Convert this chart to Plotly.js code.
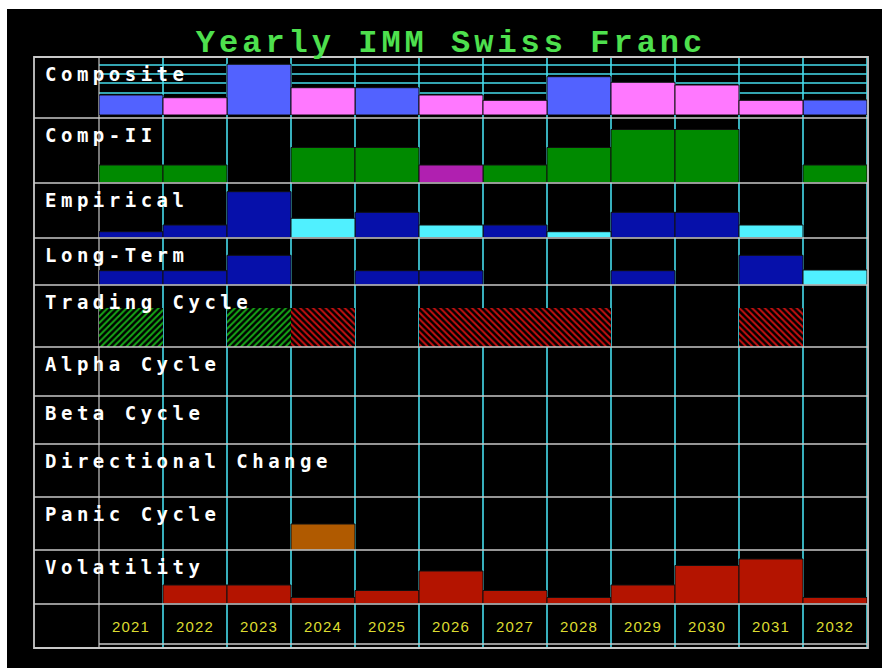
<!DOCTYPE html>
<html>
<head>
<meta charset="utf-8">
<script src="https://cdn.plot.ly/plotly-3.0.1.min.js"></script>
<style>
html,body{margin:0;padding:0;background:#000;}
#chart{width:882px;height:668px;}
.annotation-text{letter-spacing:4.5px;}
.gtitle{letter-spacing:4px;}
.x2tick text{letter-spacing:1.2px;}
</style>
</head>
<body>
<div id="chart"></div>
<script>
// ---- data ----
const years = [2021,2022,2023,2024,2025,2026,2027,2028,2029,2030,2031,2032];
const rowLabels = ["Composite","Comp-II","Empirical","Long-Term","Trading Cycle","Alpha Cycle","Beta Cycle","Directional Change","Panic Cycle","Volatility"];
const title = "Yearly IMM Swiss Franc";

const compositeBlue = [20,null,50.7,null,27.3,null,null,38.3,null,null,null,15];
const compositePink = [null,17.3,null,27.3,null,20,14.7,null,32.7,30,14.7,null];

const comp2Green  = [17.5,17.5,null,35,35,null,17.5,35,53,53,null,17.5];
const comp2Purple = [null,null,null,null,null,17.5,null,null,null,null,null,null];

const empiricalDark = [5.8,12.5,45.8,null,25.2,null,12.5,null,25.2,25.2,null,null];
const empiricalCyan = [null,null,null,19.2,null,12.5,null,5.8,null,null,12.5,null];

const longTermDark = [14.3,14.3,29.7,null,14.3,14.3,null,null,14.3,null,29.7,null];
const longTermCyan = [null,null,null,null,null,null,null,null,null,null,null,15];

const tradingGreen = [39,null,39,null,null,null,null,null,null,null,null,null];
const tradingRed   = [null,null,null,39,null,39,39,39,null,null,39,null];

const panicCycle = [null,null,null,26,null,null,null,null,null,null,null,null];

const volatility = [null,18.5,18.5,6,13,32.5,13,6,18.5,38,44.5,6];

// ---- layout geometry (pixels) ----
const W = 882, H = 668;
const px = x => x / W;
const py = y => 1 - y / H;
const rowTops = [57,118,183,238,285,347,396,444,497,550];
const rowBase = [115,182.5,237.5,285,347,396,444,497,550,603.5];
const frameL = 34, frameR = 868, frameT = 57, frameB = 648, divX = 99, plotR = 867;

const GRAY = '#c8c8c8', CYAN = '#46dcec';

function barTrace(vals, axisIdx, color) {
  return {
    type: 'bar', x: years, y: vals, xaxis: 'x', yaxis: axisIdx === 1 ? 'y' : 'y' + axisIdx,
    marker: { color: color, line: { color: '#101010', width: 1 } },
    hoverinfo: 'skip', showlegend: false
  };
}
function hatch(vals, axisIdx, color, shape) {
  return {
    type: 'bar', x: years, y: vals, xaxis: 'x', yaxis: 'y' + axisIdx,
    marker: { color: color, line: { width: 0 },
      pattern: { shape: shape, fillmode: 'replace', bgcolor: '#000', fgcolor: color, size: 4.5, solidity: 0.45 } },
    hoverinfo: 'skip', showlegend: false
  };
}

const data = [
  barTrace(compositeBlue, 1, '#5262ff'),
  barTrace(compositePink, 1, '#ff78ff'),
  barTrace(comp2Green, 2, '#008a00'),
  barTrace(comp2Purple, 2, '#b020b0'),
  barTrace(empiricalDark, 3, '#0610aa'),
  barTrace(empiricalCyan, 3, '#50f0ff'),
  barTrace(longTermDark, 4, '#0610aa'),
  barTrace(longTermCyan, 4, '#50f0ff'),
  hatch(tradingGreen, 5, '#16a816', '/'),
  hatch(tradingRed, 5, '#c81010', '\\'),
  barTrace(panicCycle, 6, '#b05a00'),
  barTrace(volatility, 7, '#b41400'),
  // carrier for the year axis
  { type: 'scatter', x: years, y: years.map(() => null), xaxis: 'x2', yaxis: 'y', hoverinfo: 'skip', showlegend: false }
];

// which row each y axis belongs to
const axisRows = { 1: 0, 2: 1, 3: 2, 4: 3, 5: 4, 6: 8, 7: 9 };

const layout = {
  width: W, height: H,
  margin: { l: 0, r: 0, t: 0, b: 0, pad: 0 },
  paper_bgcolor: '#000', plot_bgcolor: 'rgba(0,0,0,0)',
  barmode: 'overlay', bargap: 0,
  showlegend: false,
  title: {
    text: title, x: px(451), xanchor: 'center', y: py(41), yanchor: 'middle',
    font: { family: 'Liberation Mono', size: 32, color: '#4ee04e', weight: 'bold' }
  },
  xaxis: { domain: [px(divX), px(plotR)], range: [years[0] - 0.5, years[years.length - 1] + 0.5], visible: false, fixedrange: true },
  xaxis2: {
    domain: [px(divX), px(plotR)], range: [years[0] - 0.5, years[years.length - 1] + 0.5],
    anchor: 'free', position: py(616), overlaying: 'x',
    tickmode: 'array', tickvals: years, ticktext: years.map(String),
    ticks: '', showline: false, showgrid: false, zeroline: false,
    tickfont: { family: 'Liberation Sans', size: 15, color: '#dcdc30' }, fixedrange: true
  },
  shapes: [],
  annotations: []
};

for (const k in axisRows) {
  const r = axisRows[k];
  const name = k === '1' ? 'yaxis' : 'yaxis' + k;
  layout[name] = {
    domain: [py(rowBase[r]), py(rowTops[r])],
    range: [0, rowBase[r] - rowTops[r]],
    anchor: 'x', visible: false, fixedrange: true
  };
}

// white strips at top and left edges
layout.shapes.push({ type: 'rect', xref: 'paper', yref: 'paper', x0: 0, x1: px(7), y0: 0, y1: 1, fillcolor: '#fff', line: { width: 0 }, layer: 'below' });
layout.shapes.push({ type: 'rect', xref: 'paper', yref: 'paper', x0: 0, x1: 1, y0: py(9), y1: 1, fillcolor: '#fff', line: { width: 0 }, layer: 'below' });

// composite horizontal cyan grid lines
[65, 74, 83, 93].forEach(y => layout.shapes.push({
  type: 'line', xref: 'paper', yref: 'paper', x0: px(divX), x1: px(plotR), y0: py(y), y1: py(y),
  line: { color: CYAN, width: 1.5 }, layer: 'below'
}));

// cyan vertical column dividers (bars are drawn over them)
years.forEach(yr => layout.shapes.push({
  type: 'line', xref: 'x', yref: 'paper', x0: yr + 0.5, x1: yr + 0.5, y0: py(frameB), y1: py(frameT),
  line: { color: CYAN, width: 1.6 }, layer: 'below'
}));

// gray label divider
layout.shapes.push({ type: 'line', xref: 'paper', yref: 'paper', x0: px(divX), x1: px(divX), y0: py(frameB), y1: py(frameT), line: { color: GRAY, width: 1.2 }, layer: 'below' });

// gray row separators
rowTops.slice(1).concat([604]).forEach(y => layout.shapes.push({
  type: 'line', xref: 'paper', yref: 'paper', x0: px(frameL), x1: px(frameR), y0: py(y), y1: py(y),
  line: { color: GRAY, width: 1.6 }, layer: 'above'
}));
// inner bottom line of the year row
layout.shapes.push({ type: 'line', xref: 'paper', yref: 'paper', x0: px(divX), x1: px(plotR), y0: py(644), y1: py(644), line: { color: GRAY, width: 1.4 }, layer: 'above' });
// outer frame
layout.shapes.push({ type: 'rect', xref: 'paper', yref: 'paper', x0: px(frameL), x1: px(frameR), y0: py(frameB), y1: py(frameT), line: { color: GRAY, width: 1.8 }, fillcolor: 'rgba(0,0,0,0)', layer: 'above' });

// row labels
rowLabels.forEach((lab, i) => layout.annotations.push({
  text: lab, xref: 'paper', yref: 'paper', x: px(43), y: py(rowTops[i] + 17),
  xanchor: 'left', yanchor: 'middle', showarrow: false,
  font: { family: 'DejaVu Sans Mono', size: 19, color: '#ffffff', weight: 'bold' }
}));

Plotly.newPlot('chart', data, layout, { staticPlot: true, displayModeBar: false });
</script>
</body>
</html>
